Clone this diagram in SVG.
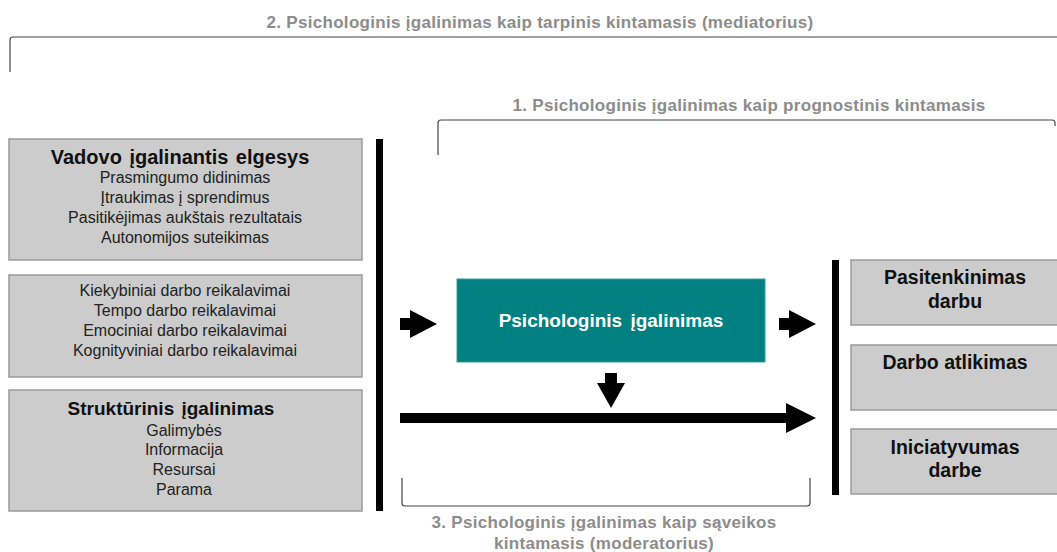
<svg xmlns="http://www.w3.org/2000/svg" width="1057" height="552" viewBox="0 0 1057 552">
<style>
.box{fill:#cccccc;stroke:#9a9a9a;stroke-width:1.5}
.lbl{font-family:"Liberation Sans",Arial,sans-serif;font-weight:bold;font-size:17px;letter-spacing:0.3px;fill:#8c8c8c;text-anchor:middle}
.ttl{font-family:"Liberation Sans",Arial,sans-serif;font-weight:bold;font-size:19px;fill:#111;text-anchor:middle;word-spacing:2px}
.sub{font-family:"Liberation Sans",Arial,sans-serif;font-size:16px;fill:#222;text-anchor:middle}
.out{font-family:"Liberation Sans",Arial,sans-serif;font-weight:bold;font-size:19.5px;fill:#111;text-anchor:middle}
.brk{fill:none;stroke:#444;stroke-width:1.2}
.bar{fill:#000}
</style>
<rect width="1057" height="552" fill="#fff"/>
<g id="labels">
<text class="lbl" x="540" y="28">2. Psichologinis įgalinimas kaip tarpinis kintamasis (mediatorius)</text>
<text class="lbl" x="749" y="111">1. Psichologinis įgalinimas kaip prognostinis kintamasis</text>
<text class="lbl" x="604" y="528">3. Psichologinis įgalinimas kaip sąveikos</text>
<text class="lbl" x="604" y="549">kintamasis (moderatorius)</text>
</g>
<g id="brackets">
<path class="brk" d="M10,72 V40 Q10,37 13,37 H1057"/>
<path class="brk" d="M438,155 V123 Q438,120 441,120 H1052 Q1055,120 1055,123 V126"/>
<path class="brk" d="M402,478 V503 Q402,506 405,506 H807 Q810,506 810,503 V478"/>
</g>
<g id="node-vadovo">
<rect class="box" x="9" y="139" width="353" height="121"/>
<text class="ttl" x="180" y="164" style="font-size:20px">Vadovo įgalinantis elgesys</text>
<text class="sub" x="185" y="183">Prasmingumo didinimas</text>
<text class="sub" x="185" y="203">Įtraukimas į sprendimus</text>
<text class="sub" x="185" y="223">Pasitikėjimas aukštais rezultatais</text>
<text class="sub" x="185" y="243">Autonomijos suteikimas</text>
</g>
<g id="node-reikalavimai">
<rect class="box" x="9" y="275" width="353" height="102"/>
<text class="sub" x="185" y="296">Kiekybiniai darbo reikalavimai</text>
<text class="sub" x="185" y="316">Tempo darbo reikalavimai</text>
<text class="sub" x="185" y="336">Emociniai darbo reikalavimai</text>
<text class="sub" x="185" y="356">Kognityviniai darbo reikalavimai</text>
</g>
<g id="node-strukturinis">
<rect class="box" x="9" y="390" width="353" height="121"/>
<text class="ttl" x="171" y="415">Struktūrinis įgalinimas</text>
<text class="sub" x="184" y="436">Galimybės</text>
<text class="sub" x="184" y="455">Informacija</text>
<text class="sub" x="184" y="475">Resursai</text>
<text class="sub" x="184" y="495">Parama</text>
</g>
<g id="node-psichologinis">
<rect x="457" y="279" width="308" height="83" fill="#008080" stroke="#3a9a9a" stroke-width="1"/>
<text x="611" y="327" font-family="'Liberation Sans',Arial,sans-serif" font-weight="bold" font-size="19" fill="#fff" text-anchor="middle" word-spacing="3">Psichologinis įgalinimas</text>
</g>
<g id="node-pasitenkinimas">
<rect class="box" x="851" y="260" width="210" height="65"/>
<text class="out" x="955" y="284">Pasitenkinimas</text>
<text class="out" x="955" y="308">darbu</text>
</g>
<g id="node-atlikimas">
<rect class="box" x="851" y="345" width="210" height="65"/>
<text class="out" x="955" y="369">Darbo atlikimas</text>
</g>
<g id="node-iniciatyvumas">
<rect class="box" x="851" y="429" width="210" height="65"/>
<text class="out" x="955" y="454">Iniciatyvumas</text>
<text class="out" x="955" y="477">darbe</text>
</g>
<g id="connectors">
<rect class="bar" x="376" y="139" width="7" height="372"/>
<rect class="bar" x="832" y="260" width="7" height="235"/>
<polygon class="bar" points="400,318 410,318 410,310 437,324 410,338 410,330 400,330"/>
<polygon class="bar" points="779,318 789,318 789,310 816,324 789,338 789,330 779,330"/>
<polygon class="bar" points="605,373 617,373 617,383 625,383 611,408 597,383 605,383"/>
<polygon class="bar" points="400,413 786,413 786,403 816,418 786,433 786,423 400,423"/>
</g>
</svg>
